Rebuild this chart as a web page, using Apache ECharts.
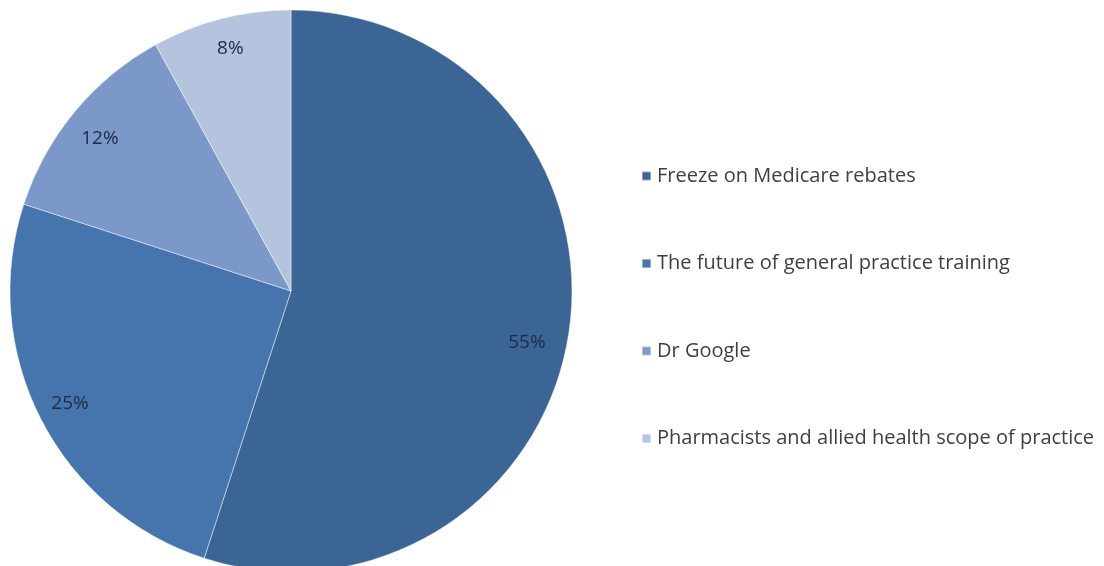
<!DOCTYPE html>
<html>
<head>
<meta charset="utf-8">
<script src="https://cdn.jsdelivr.net/npm/echarts@6/dist/echarts.min.js"></script>
<style>html,body{margin:0;padding:0;background:#fff}#c{width:1104px;height:566px}</style>
</head>
<body>
<div id="c"></div>
<script>
const categories = ["Freeze on Medicare rebates", "The future of general practice training", "Dr Google", "Pharmacists and allied health scope of practice"];
const values = [55, 25, 12, 8];
const colors = ["#3B6595", "#4675AE", "#7B98C8", "#B4C3DE"];
const labelOffsets = [[-9, 13], [0, 0], [0, 6], [1, -2]];

const chart = echarts.init(document.getElementById('c'));
const mainData = categories.map((n, i) => ({ name: n, value: values[i], itemStyle: { color: colors[i] } }));
const ghostData = categories.map((n, i) => ({ name: n, value: values[i], label: { offset: labelOffsets[i] } }));
chart.setOption({
  animation: false,
  legend: {
    orient: 'vertical',
    left: 636,
    top: 158,
    itemWidth: 9,
    itemHeight: 9,
    itemGap: 61.5,
    icon: 'rect',
    data: categories.map((n, i) => ({ name: n, itemStyle: { color: colors[i] } })),
    textStyle: { fontFamily: 'Open Sans', fontSize: 20, color: '#404040', lineHeight: 26, padding: [0, 0, 0, 1] }
  },
  series: [
    {
      type: 'pie',
      center: [291, 291],
      radius: [0, 281],
      startAngle: 90,
      clockwise: true,
      data: mainData,
      label: { show: false },
      labelLine: { show: false },
      itemStyle: { borderColor: 'rgba(255,255,255,0.45)', borderWidth: 1 },
      emphasis: { disabled: true },
      silent: true
    },
    {
      type: 'pie',
      center: [291, 291],
      radius: [0, 490],
      startAngle: 90,
      clockwise: true,
      data: ghostData,
      z: 5,
      itemStyle: { color: 'rgba(0,0,0,0)', borderWidth: 0 },
      label: {
        show: true,
        position: 'inside',
        formatter: '{c}%',
        fontFamily: 'Open Sans',
        fontSize: 19,
        color: '#1E2B45'
      },
      labelLine: { show: false },
      emphasis: { disabled: true },
      silent: true
    }
  ]
});
</script>
</body>
</html>
